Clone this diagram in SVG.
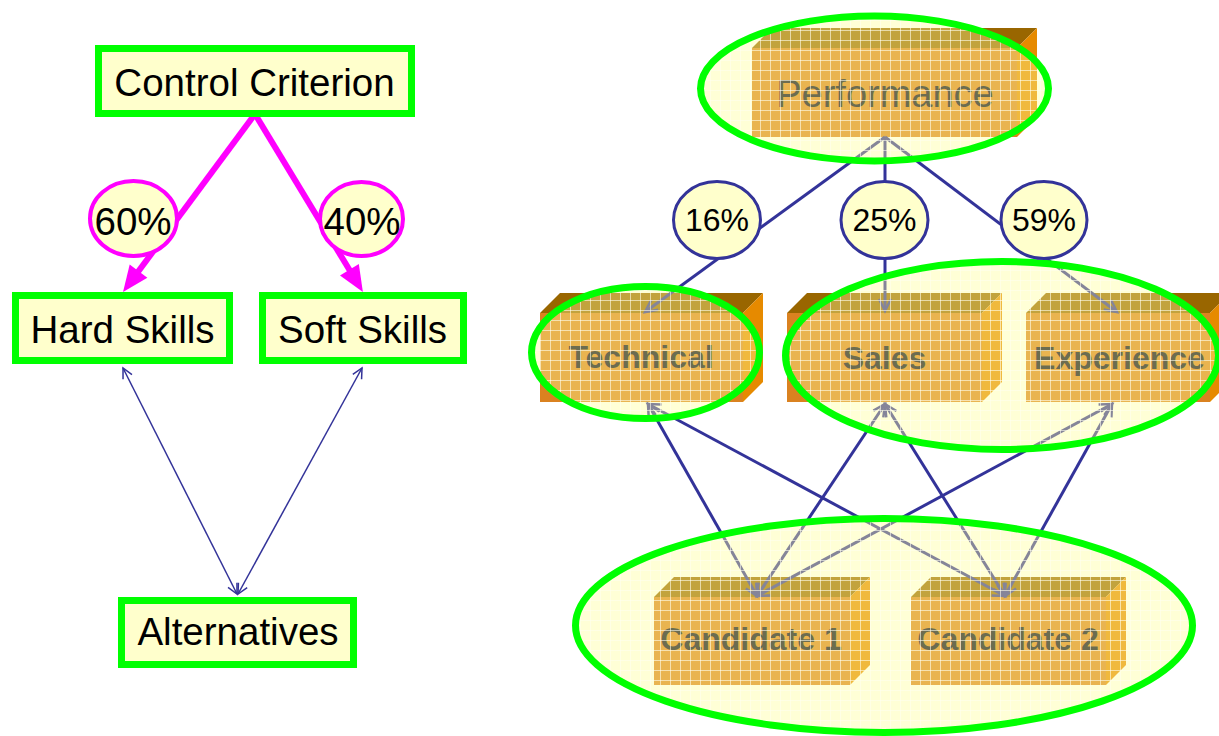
<svg xmlns="http://www.w3.org/2000/svg" width="1219" height="736" viewBox="0 0 1219 736">
  <style>
    .box { fill: #FFFFCC; stroke: #00FF00; stroke-width: 7; }
    .lbl { font-family: "Liberation Sans", Arial, sans-serif; font-size: 38.5px; fill: #000; text-anchor: middle; }
    .pct { font-family: "Liberation Sans", Arial, sans-serif; font-size: 32px; fill: #000; text-anchor: middle; }
    .mag { stroke: #FF00FF; stroke-width: 6; fill: none; }
    .magc { fill: #FFFFCC; stroke: #FF00FF; stroke-width: 4; }
    .thin { stroke: #333399; stroke-width: 1.5; fill: none; }
    .link { stroke: #333399; stroke-width: 3; fill: none; }
    .bluec { fill: #FFFFCC; stroke: #333399; stroke-width: 3; }
    .front { fill: #DA8220; }
    .top { fill: #996600; }
    .side { fill: #E68A00; }
    .btxt { font-family: "Liberation Sans", Arial, sans-serif; font-size: 32px; font-weight: bold; fill: #0a0a20; text-anchor: middle; }
    .halo { fill: url(#wash); stroke: none; }
    .ring { fill: none; stroke: #00FF00; stroke-width: 7; }
  </style>
  <defs>
    <marker id="magHead" markerUnits="userSpaceOnUse" markerWidth="30" markerHeight="26" viewBox="0 -13 28 26" refX="16" refY="0" orient="auto">
      <path d="M0,-11 L26,0 L0,11 Z" fill="#FF00FF"/>
    </marker>
    <marker id="vThin" markerUnits="userSpaceOnUse" markerWidth="14" markerHeight="14" viewBox="-2 -7 14 14" refX="10" refY="0" orient="auto-start-reverse">
      <path d="M0,-5 L10,0 L0,5" fill="none" stroke="#333399" stroke-width="1.5"/>
    </marker>
    <marker id="vLink" markerUnits="userSpaceOnUse" markerWidth="18" markerHeight="18" viewBox="-3 -9 18 18" refX="12" refY="0" orient="auto-start-reverse">
      <path d="M0,-6 L12,0 L0,6" fill="none" stroke="#333399" stroke-width="2.5"/>
    </marker>
    <!-- translucent yellow wash with a fine grid, used inside the cluster outlines -->
    <pattern id="wash" patternUnits="userSpaceOnUse" width="10" height="10">
      <rect width="10" height="10" fill="#FFFF99" fill-opacity="0.4"/>
      <path d="M0,0.5 H10 M0.5,0 V10" stroke="#FFFFF0" stroke-opacity="0.6" stroke-width="1"/>
    </pattern>
  </defs>

  <!-- ===== Left hierarchy ===== -->
  <g id="left-connectors">
    <line class="mag" x1="255" y1="114" x2="129" y2="284" marker-end="url(#magHead)"/>
    <line class="mag" x1="255" y1="114" x2="357.7" y2="283.5" marker-end="url(#magHead)"/>
    <line class="thin" x1="123" y1="368" x2="237" y2="594" marker-start="url(#vThin)" marker-end="url(#vThin)"/>
    <line class="thin" x1="362" y1="368" x2="238" y2="594" marker-start="url(#vThin)" marker-end="url(#vThin)"/>
  </g>

  <g id="control-criterion">
    <rect class="box" x="98.5" y="48.5" width="313" height="65"/>
    <text class="lbl" x="254.5" y="96">Control Criterion</text>
  </g>
  <g id="hard-skills">
    <rect class="box" x="15.5" y="295.5" width="214" height="65"/>
    <text class="lbl" x="122.5" y="343">Hard Skills</text>
  </g>
  <g id="soft-skills">
    <rect class="box" x="262.5" y="295.5" width="201" height="65"/>
    <text class="lbl" x="362.5" y="343">Soft Skills</text>
  </g>
  <g id="alternatives">
    <rect class="box" x="121.5" y="600.5" width="232" height="64"/>
    <text class="lbl" x="238" y="645">Alternatives</text>
  </g>
  <g id="weight-60">
    <ellipse class="magc" cx="133.5" cy="218.5" rx="43.5" ry="37.5"/>
    <text class="lbl" x="133" y="235">60%</text>
  </g>
  <g id="weight-40">
    <ellipse class="magc" cx="361.5" cy="219" rx="41.5" ry="37"/>
    <text class="lbl" x="362" y="235">40%</text>
  </g>

  <!-- ===== Right network ===== -->
  <g id="performance">
    <polygon class="top" points="752,48 772,28 1037,28 1017,48"/>
    <polygon class="side" points="1017,48 1037,28 1037,117 1017,137"/>
    <rect class="front" x="752" y="48" width="265" height="89"/>
    <text class="btxt" style="font-weight:normal;font-size:38px" x="885" y="107">Performance</text>
  </g>
  <g id="technical">
    <polygon class="top" points="540,313 560,293 763,293 743,313"/>
    <polygon class="side" points="743,313 763,293 763,382 743,402"/>
    <rect class="front" x="540" y="313" width="203" height="89"/>
    <text class="btxt" x="641" y="368">Technical</text>
  </g>
  <g id="sales">
    <polygon class="top" points="787,313 807,293 1002,293 982,313"/>
    <polygon class="side" points="982,313 1002,293 1002,382 982,402"/>
    <rect class="front" x="787" y="313" width="195" height="89"/>
    <text class="btxt" x="884.5" y="369">Sales</text>
  </g>
  <g id="experience">
    <polygon class="top" points="1026,313 1046,293 1230,293 1210,313"/>
    <polygon class="side" points="1210,313 1230,293 1230,382 1210,402"/>
    <rect class="front" x="1026" y="313" width="184" height="89"/>
    <text class="btxt" x="1119.5" y="369">Experience</text>
  </g>
  <g id="candidate-1">
    <polygon class="top" points="654,597 674,577 870,577 850,597"/>
    <polygon class="side" points="850,597 870,577 870,665 850,685"/>
    <rect class="front" x="654" y="597" width="196" height="88"/>
    <text class="btxt" x="751" y="650">Candidate 1</text>
  </g>
  <g id="candidate-2">
    <polygon class="top" points="911,597 931,577 1126,577 1106,597"/>
    <polygon class="side" points="1106,597 1126,577 1126,665 1106,685"/>
    <rect class="front" x="911" y="597" width="195" height="88"/>
    <text class="btxt" x="1008" y="650">Candidate 2</text>
  </g>

  <g id="connectors">
    <line class="link" x1="885" y1="137" x2="645" y2="312" marker-end="url(#vLink)"/>
    <line class="link" x1="885" y1="137" x2="885" y2="311" marker-end="url(#vLink)"/>
    <line class="link" x1="885" y1="137" x2="1117" y2="312" marker-end="url(#vLink)"/>
    <line class="link" x1="648" y1="404" x2="757" y2="596" marker-start="url(#vLink)" marker-end="url(#vLink)"/>
    <line class="link" x1="648" y1="404" x2="1005" y2="596" marker-start="url(#vLink)" marker-end="url(#vLink)"/>
    <line class="link" x1="885" y1="404" x2="757" y2="596" marker-start="url(#vLink)" marker-end="url(#vLink)"/>
    <line class="link" x1="885" y1="404" x2="1005" y2="596" marker-start="url(#vLink)" marker-end="url(#vLink)"/>
    <line class="link" x1="1112" y1="404" x2="757" y2="596" marker-start="url(#vLink)" marker-end="url(#vLink)"/>
    <line class="link" x1="1112" y1="404" x2="1005" y2="596" marker-start="url(#vLink)" marker-end="url(#vLink)"/>
  </g>

  <!-- cluster outlines with translucent gridded fill -->
  <g id="clusters">
    <ellipse class="halo" cx="874.5" cy="88.5" rx="174" ry="72.5"/>
    <ellipse class="halo" cx="645.5" cy="352.5" rx="114" ry="66"/>
    <ellipse class="halo" cx="1002" cy="355.5" rx="216.5" ry="94"/>
    <ellipse class="halo" cx="884" cy="625.5" rx="308.5" ry="107"/>
    <ellipse class="ring" cx="874.5" cy="88.5" rx="174" ry="72.5"/>
    <ellipse class="ring" cx="645.5" cy="352.5" rx="114" ry="66"/>
    <ellipse class="ring" cx="1002" cy="355.5" rx="216.5" ry="94"/>
    <ellipse class="ring" cx="884" cy="625.5" rx="308.5" ry="107"/>
  </g>

  <g id="weight-16">
    <ellipse class="bluec" cx="717" cy="220" rx="43.5" ry="38.5"/>
    <text class="pct" x="717" y="231">16%</text>
  </g>
  <g id="weight-25">
    <ellipse class="bluec" cx="884.5" cy="220" rx="43.5" ry="38.5"/>
    <text class="pct" x="884.5" y="231">25%</text>
  </g>
  <g id="weight-59">
    <ellipse class="bluec" cx="1044" cy="220" rx="43" ry="38.5"/>
    <text class="pct" x="1044" y="231">59%</text>
  </g>
</svg>
